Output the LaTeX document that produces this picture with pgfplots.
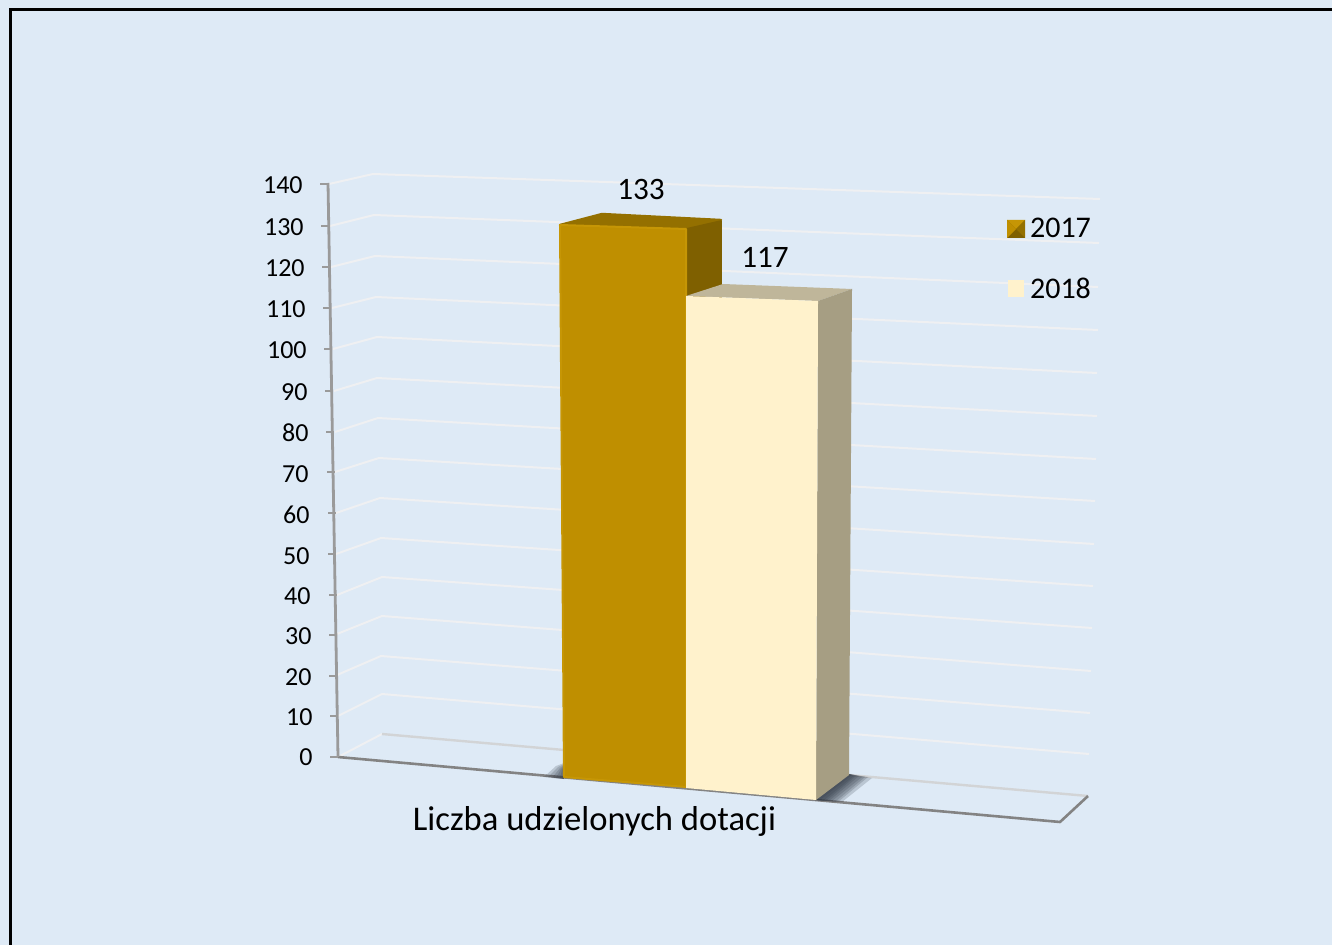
\documentclass[border=0pt]{standalone}
\usepackage{pgfplots}
\pgfplotsset{compat=1.18}
\usepackage{fontspec}
\setmainfont{Carlito}
\definecolor{bgc}{HTML}{DEEAF6}
\definecolor{gridc}{HTML}{EFF0F2}
\definecolor{axc}{HTML}{9A9A9A}
\definecolor{flc}{HTML}{D2D4D6}
\definecolor{gf}{HTML}{BF8F00}
\definecolor{gt}{HTML}{947000}
\definecolor{gr}{HTML}{7F6000}
\definecolor{ge}{HTML}{C69605}
\definecolor{cf}{HTML}{FFF2CC}
\definecolor{ct}{HTML}{BFB69A}
\definecolor{cr}{HTML}{A69E83}
\definecolor{shc}{HTML}{2E3642}
\pgfplotsset{
  lab/.style={draw=none,mark=none,point meta=explicit symbolic,nodes near coords,
    nodes near coords align={center},
    every node near coord/.append style={inner sep=0pt,text=black,font=\fontsize{#1}{#1}\selectfont}},
  tlab/.style={draw=none,mark=none,point meta=explicit symbolic,nodes near coords,
    nodes near coords align={east},
    every node near coord/.append style={inner sep=0pt,text=black,font=\fontsize{13}{14}\selectfont}},
  gl/.style={draw=gridc,line width=1pt,line join=round},
  tk/.style={draw=axc,line width=1pt},
  sh/.style={draw=none,fill=shc,fill opacity=0.2},
}
\begin{document}
\begin{tikzpicture}
\begin{axis}[
  hide axis, scale only axis, width=666pt, height=472.5pt,
  xmin=0, xmax=1332, ymin=0, ymax=945, y dir=reverse, clip=true]
% background and frame
\addplot[draw=none,fill=bgc] coordinates {(0,0)(1332,0)(1332,945)(0,945)} --cycle;
\addplot[draw=black,line width=1.5pt] coordinates {(1332,9.5)(10.5,9.5)(10.5,945)};
% gridlines: axis point, back corner, right end, for 140 ... 10
\addplot[gl] coordinates {(329,184)(373,174)(1100,199)};
\addplot[gl] coordinates {(330,226)(374,215)(1099,243)};
\addplot[gl] coordinates {(331,267)(375,256)(1098,287)};
\addplot[gl] coordinates {(332,308)(376,297)(1098,330)};
\addplot[gl] coordinates {(333,349)(377,337)(1097,373)};
\addplot[gl] coordinates {(334,391)(377,378)(1097,416)};
\addplot[gl] coordinates {(335,432)(378,418)(1096,459)};
\addplot[gl] coordinates {(335,472)(379,458)(1095,501)};
\addplot[gl] coordinates {(336,513)(380,498)(1094,544)};
\addplot[gl] coordinates {(336,554)(381,538)(1093,586)};
\addplot[gl] coordinates {(337,595)(382,577)(1092,628)};
\addplot[gl] coordinates {(337,634)(382,616)(1091,671)};
\addplot[gl] coordinates {(337,675)(381,656)(1090,713)};
\addplot[gl] coordinates {(338,716)(382,694)(1089,754)};
\addplot[gl] coordinates {(338,757)(382,734)};
% back floor line
\addplot[draw=flc,line width=1.2pt] coordinates {(382,734)(1088,796)};
% floor front
\addplot[draw=axc!85!black,line width=1.3pt,line join=round] coordinates {(338,757)(1060,822)(1088,796)};
% y axis with ticks
\addplot[draw=axc,line width=1.4pt] coordinates {(328,183)(338,757)};
\addplot[tk] coordinates {(320,184)(328,184)};
\addplot[tk] coordinates {(321,226)(329,226)};
\addplot[tk] coordinates {(322,267)(330,267)};
\addplot[tk] coordinates {(323,308)(331,308)};
\addplot[tk] coordinates {(324,349)(332,349)};
\addplot[tk] coordinates {(325,391)(333,391)};
\addplot[tk] coordinates {(326,432)(334,432)};
\addplot[tk] coordinates {(327,472)(335,472)};
\addplot[tk] coordinates {(328,513)(336,513)};
\addplot[tk] coordinates {(328,554)(336,554)};
\addplot[tk] coordinates {(329,595)(337,595)};
\addplot[tk] coordinates {(329,635)(337,635)};
\addplot[tk] coordinates {(329,676)(337,676)};
\addplot[tk] coordinates {(330,716)(338,716)};
\addplot[tk] coordinates {(330,757)(338,757)};
% shadows
\addplot[sh] coordinates {(564,779)(564,763)(556,766)(544,777)} --cycle;
\addplot[sh] coordinates {(564,779)(564,764)(558,767)(548,777)} --cycle;
\addplot[sh] coordinates {(564,779)(564,765)(560,768)(552,778)} --cycle;
\addplot[sh] coordinates {(564,779)(564,766)(561,769)(556,778)} --cycle;
\addplot[sh] coordinates {(564,779)(564,767)(562,770)(560,778)} --cycle;
\addplot[sh] coordinates {(815,800)(849,774)(872,778)(842,802)} --cycle;
\addplot[sh] coordinates {(815,800)(849,774)(868,777)(838,802)} --cycle;
\addplot[sh] coordinates {(815,800)(849,774)(865,777)(835,802)} --cycle;
\addplot[sh] coordinates {(815,800)(849,774)(862,777)(832,801)} --cycle;
\addplot[sh] coordinates {(815,800)(849,774)(859,776)(829,801)} --cycle;
\addplot[sh] coordinates {(815,800)(849,774)(856,776)(826,801)} --cycle;
\addplot[sh] coordinates {(815,800)(849,774)(854,776)(823,801)} --cycle;
\addplot[sh] coordinates {(815,800)(849,774)(852,775)(820,800)} --cycle;
% bar 2017
\addplot[draw=gt,fill=gt,line width=1.2pt,line join=round] coordinates {(560,225)(602,214)(721,220)(686,229)} --cycle;
\addplot[draw=gr,fill=gr,line width=0.8pt,line join=round] coordinates {(686,229)(721,221)(721,300)(686,300)} --cycle;
\addplot[draw=ge,fill=gf,line width=1pt,line join=round] coordinates {(560,225)(686,229)(686,787)(564,777)} --cycle;
% bar 2018
\addplot[draw=none,fill=ct] coordinates {(686,296)(723,284)(852,289)(818,301)} --cycle;
\addplot[draw=none,fill=cr] coordinates {(818,301)(852,289)(849,775)(816,800)} --cycle;
\addplot[draw=none,fill=cf] coordinates {(686,296)(818,301)(816,800)(686,788)} --cycle;
% legend keys
\addplot[draw=none,fill=gr] coordinates {(1007,220)(1025,220)(1025,238)(1007,238)} --cycle;
\addplot[draw=none,fill=ge] coordinates {(1007,220)(1025,220)(1016,229)} --cycle;
\addplot[draw=none,fill=gf] coordinates {(1007,220)(1016,229)(1007,238)} --cycle;
\addplot[draw=none,fill=gt] coordinates {(1025,220)(1016,229)(1025,238)} --cycle;
\addplot[draw=none,fill=cf] coordinates {(1008,280)(1024,280)(1024,297)(1008,297)} --cycle;
% texts
\addplot[tlab] coordinates {
 (303,185) [140] (304,227) [130] (305,268) [120] (306,309) [110] (307,350) [100]
 (308,392) [90] (309,433) [80] (309,474) [70] (310,515) [60] (310,556) [50]
 (311,596) [40] (312,636) [30] (312,677) [20] (313,717) [10] (313,757) [0]};
\addplot[lab=15.6] coordinates {(641,189.5) [133] (765,257.5) [117]};
\addplot[lab=15] coordinates {(1060.5,228) [2017] (1060.5,288) [2018]};
\addplot[lab=17.3] coordinates {(594.5,821) [Liczba udzielonych dotacji]};
\end{axis}
\end{tikzpicture}
\end{document}
